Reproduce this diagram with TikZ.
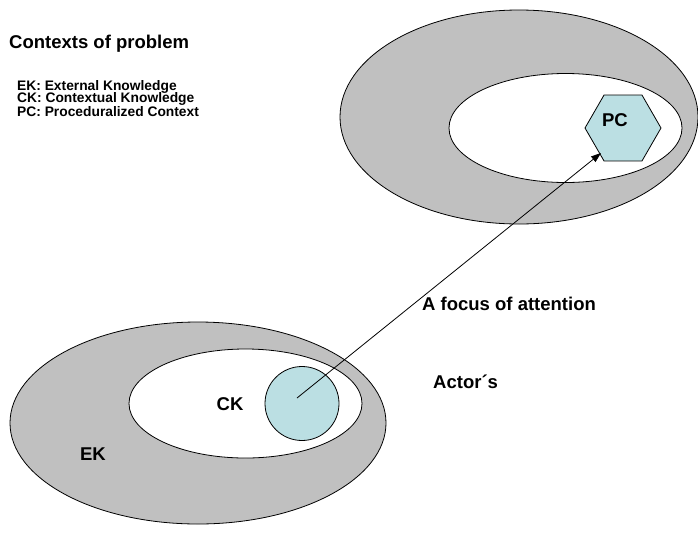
\documentclass[tikz,border=0pt]{standalone}
\usepackage{fontspec}
\setmainfont{Liberation Sans}
\usetikzlibrary{shapes.geometric,arrows.meta}
\definecolor{ringgray}{HTML}{C0C0C0}
\definecolor{paleblue}{HTML}{BBDFE3}
\tikzset{
  outer/.style={ellipse, draw=black, line width=0.8pt, fill=ringgray, inner sep=0pt},
  inner/.style={ellipse, draw=black, line width=0.8pt, fill=white, inner sep=0pt},
  blueshape/.style={draw=black, line width=0.8pt, fill=paleblue, inner sep=0pt},
  big/.style={font=\bfseries\fontsize{18.5}{22}\selectfont, inner sep=0pt},
  small/.style={font=\bfseries\fontsize{13.8}{16}\selectfont, inner sep=0pt, anchor=west},
  focus/.style={-{Triangle[length=10pt,width=7pt]}, line width=0.8pt}
}
\begin{document}
\begin{tikzpicture}[x=1pt,y=-1pt]
\useasboundingbox (0,0) rectangle (698,536);
% upper context
\node[outer, minimum width=358pt, minimum height=214pt] (uout) at (519,117) {};
\node[inner, minimum width=233pt, minimum height=109pt] (uin) at (565.5,128) {};
\node[blueshape, regular polygon, regular polygon sides=6, minimum size=76pt] (pc) at (623,128) {};
\node[big] (pclabel) at (615,120) {PC};
\coordinate (pctip) at (601,153);
% lower context
\node[outer, minimum width=376pt, minimum height=202pt] (lout) at (198,423) {};
\node[inner, minimum width=233pt, minimum height=109pt] (lin) at (245.5,403.5) {};
\node[blueshape, circle, minimum size=74pt] (ck) at (302,403.5) {};
\coordinate (ckstart) at (297,398);
\node[big] (cklabel) at (230,404) {CK};
\node[big] (eklabel) at (93,454) {EK};
% arrow
\draw[focus] (ckstart) -- (pctip);
% texts
\node[big, anchor=west] (title) at (9,44) {Contexts of problem};
\node[small] (l1) at (17,87) {EK: External Knowledge};
\node[small] (l2) at (17,99.3) {CK: Contextual Knowledge};
\node[small] (l3) at (17,111.6) {PC: Proceduralized Context};
\node[big, anchor=west] (focus) at (422,304) {A focus of attention};
\node[big, anchor=west] (actor) at (433,382) {Actor´s};
\end{tikzpicture}
\end{document}
